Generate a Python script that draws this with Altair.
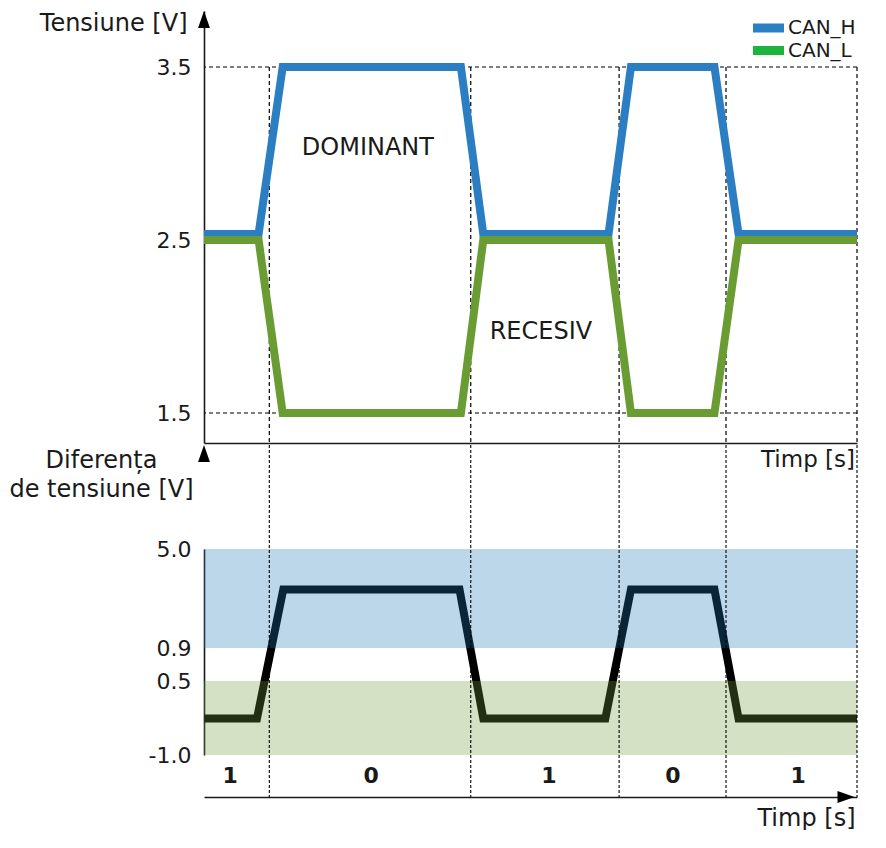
import altair as alt
import pandas as pd

# ---------------- data ----------------
# time axis in arbitrary units (0 .. 10)
t_top = [0.0, 0.836, 1.205, 3.934, 4.277, 6.195, 6.538, 7.817, 8.186, 10.0]
can_h = [2.535, 2.535, 3.5, 3.5, 2.535, 2.535, 3.5, 3.5, 2.535, 2.535]
can_l = [2.5, 2.5, 1.5, 1.5, 2.5, 2.5, 1.5, 1.5, 2.5, 2.5]

t_diff = [0.0, 0.811, 1.214, 3.913, 4.277, 6.146, 6.538, 7.817, 8.186, 10.0]
v_diff = [-0.26, -0.26, 3.32, 3.32, -0.26, -0.26, 3.32, 3.32, -0.26, -0.26]

bit_edges = [1.0, 4.085, 6.357, 7.994, 10.0]
bit_values = ["1", "0", "1", "0", "1"]
bit_label_t = [0.40, 2.56, 5.28, 7.18, 9.10]

series_names = ["CAN_H", "CAN_L"]
top_ticks = [1.5, 2.5, 3.5]
top_hlines = [1.5, 3.5]
diff_ticks = [-1.0, 0.5, 0.9, 5.0]

band_names = ["dominant", "recessive"]
band_lo = [0.9, -1.0]
band_hi = [5.0, 0.5]

ann_text = ["DOMINANT", "RECESIV"]
ann_t = [2.51, 5.16]
ann_v = [3.03, 1.97]

# ---------------- styling ----------------
FONT = "DejaVu Sans"
W = 653
H_TOP = 432
H_BOT = 352
LINE_COLORS = ["#2a7ec1", "#6a9c34"]
LEGEND_COLORS = ["#2b7fc3", "#1cb43c"]
BAND_COLORS = ["#2579b9", "#739b3a"]
INK = "#1a1a1a"
UP = "M -0.7 1 L 0 -1 L 0.7 1 Z"
RIGHT = "M -1 -0.7 L 1 0 L -1 0.7 Z"

lines_df = pd.DataFrame({
    "t": t_top * 2,
    "v": can_h + can_l,
    "series": [series_names[0]] * len(t_top) + [series_names[1]] * len(t_top),
})
diff_df = pd.DataFrame({"t": t_diff, "v": v_diff})
edges_df = pd.DataFrame({"t": bit_edges})
hl_df = pd.DataFrame({"v": top_hlines})
bits_df = pd.DataFrame({"t": bit_label_t, "bit": bit_values})
bands_df = pd.DataFrame({"band": band_names, "lo": band_lo, "hi": band_hi})
ann_df = pd.DataFrame({"t": ann_t, "v": ann_v, "txt": ann_text})
legend_df = pd.DataFrame({"series": series_names})
one = pd.DataFrame({"k": [0]})

x_scale = alt.Scale(domain=[0, 10], nice=False, zero=False)
y_top_scale = alt.Scale(domain=[1.3266, 3.8237], nice=False, zero=False)
y_bot_scale = alt.Scale(domain=[-1.0, 0.5, 0.9, 5.0], range=[310, 236, 203, 104],
                        nice=False, zero=False)

x_top_axis = alt.Axis(domain=True, ticks=False, labels=False, grid=False, title=None)
y_top_axis = alt.Axis(values=top_ticks, format=".1f", ticks=False, grid=False,
                      labelPadding=13, title="Tensiune [V]", titleAngle=0,
                      titleAlign="right", titleBaseline="middle",
                      titleX=-17, titleY=12)
x_bot_axis = alt.Axis(domain=True, ticks=False, labels=False, grid=False,
                      title="Timp [s]", titleAlign="right", titleBaseline="middle",
                      titleX=W - 2, titleY=21)
y_bot_axis = alt.Axis(values=diff_ticks, ticks=False, grid=False, labelPadding=13,
                      labelExpr="datum.value < 0 ? '-' + format(-datum.value, '.1f') : format(datum.value, '.1f')",
                      title=["Diferența", "de tensiune [V]"], titleAngle=0,
                      titleAlign="center", titleBaseline="top",
                      titleLineHeight=29, titleX=-103, titleY=3)


def xt(field="t"):
    return alt.X(f"{field}:Q", scale=x_scale, axis=x_top_axis)


def yt(field="v"):
    return alt.Y(f"{field}:Q", scale=y_top_scale, axis=y_top_axis)


def xb(field="t"):
    return alt.X(f"{field}:Q", scale=x_scale, axis=x_bot_axis)


def yb(field="v"):
    return alt.Y(f"{field}:Q", scale=y_bot_scale, axis=y_bot_axis)


# ---------------- top panel ----------------
top_h = alt.Chart(lines_df).transform_filter(
    alt.datum.series == series_names[0]
).mark_line(strokeWidth=8, color=LINE_COLORS[0]).encode(x=xt(), y=yt())

top_l = alt.Chart(lines_df).transform_filter(
    alt.datum.series == series_names[1]
).mark_line(strokeWidth=8, color=LINE_COLORS[1]).encode(x=xt(), y=yt())

legend_layers = []
for i, name in enumerate(series_names):
    row_y = 17 + 22.5 * i
    base = alt.Chart(legend_df).transform_filter(alt.datum.series == name)
    legend_layers.append(
        base.mark_rule(strokeWidth=9, color=LEGEND_COLORS[i]).encode(
            x=alt.value(W - 104), x2=alt.value(W - 73), y=alt.value(row_y)))
    legend_layers.append(
        base.mark_text(font=FONT, fontSize=20, color=INK, align="left",
                       baseline="middle").encode(
            x=alt.value(W - 69), y=alt.value(row_y), text="series:N"))

top_hl = alt.Chart(hl_df).mark_rule(color="black", strokeDash=[4, 3],
                                    strokeWidth=1.2).encode(y=yt())

top_vl = alt.Chart(edges_df).mark_rule(color="black", strokeDash=[4, 3],
                                       strokeWidth=1.2).encode(
    x=xt(), y=alt.datum(3.5), y2=alt.value(H_TOP),
)

top_ann = alt.Chart(ann_df).mark_text(font=FONT, fontSize=24, color=INK).encode(
    x=xt(), y=yt(), text="txt:N",
)

top_arrow = alt.Chart(one).mark_point(shape=UP, filled=True, size=289, color="black",
                                      opacity=1).encode(
    x=alt.value(0), y=alt.value(8.5))

top = alt.layer(top_hl, top_vl, top_h, top_l, top_ann, top_arrow,
                *legend_layers).properties(width=W, height=H_TOP)

# ---------------- bottom panel ----------------
bot_line = alt.Chart(diff_df).mark_line(strokeWidth=8, color="black").encode(
    x=xb(), y=yb())

bot_bands = alt.Chart(bands_df).mark_rect(opacity=0.3).encode(
    x=alt.value(0), x2=alt.value(W),
    y=yb("lo"), y2="hi:Q",
    fill=alt.Fill("band:N", scale=alt.Scale(domain=band_names, range=BAND_COLORS),
                  legend=None),
)

bot_vl = alt.Chart(edges_df).mark_rule(color="black", strokeDash=[3, 2],
                                       strokeWidth=1.1).encode(
    x=xb(), y=alt.value(0), y2=alt.value(H_BOT),
)

bot_bits = alt.Chart(bits_df).mark_text(font=FONT, fontSize=22, fontWeight="bold",
                                        color=INK).encode(
    x=xb(), y=alt.value(331), text="bit:N",
)

top_time_title = alt.Chart(one).mark_text(text="Timp [s]", font=FONT, fontSize=23,
                                          color=INK, align="right",
                                          baseline="middle").encode(
    x=alt.value(W - 2), y=alt.value(15))

bot_arrow_y = alt.Chart(one).mark_point(shape=UP, filled=True, size=289, color="black",
                                        opacity=1).encode(
    x=alt.value(0), y=alt.value(8.5))
bot_arrow_x = alt.Chart(one).mark_point(shape=RIGHT, filled=True, size=289, color="black",
                                        opacity=1).encode(
    x=alt.value(W - 11), y=alt.value(H_BOT))

bottom = alt.layer(bot_line, bot_bands, bot_vl, bot_bits, top_time_title,
                   bot_arrow_y, bot_arrow_x).properties(width=W, height=H_BOT)

chart = alt.vconcat(top, bottom, spacing=0).properties(
    padding={"left": 0, "top": 3, "right": 0, "bottom": 0},
).configure_view(stroke=None).configure_axis(
    labelFont=FONT, titleFont=FONT, labelFontSize=22, titleFontSize=24,
    labelColor=INK, titleColor=INK, titleFontWeight="normal",
    domainColor=INK, domainWidth=1.6,
)

chart.save("out.html", embed_options={"renderer": "svg", "actions": False})
